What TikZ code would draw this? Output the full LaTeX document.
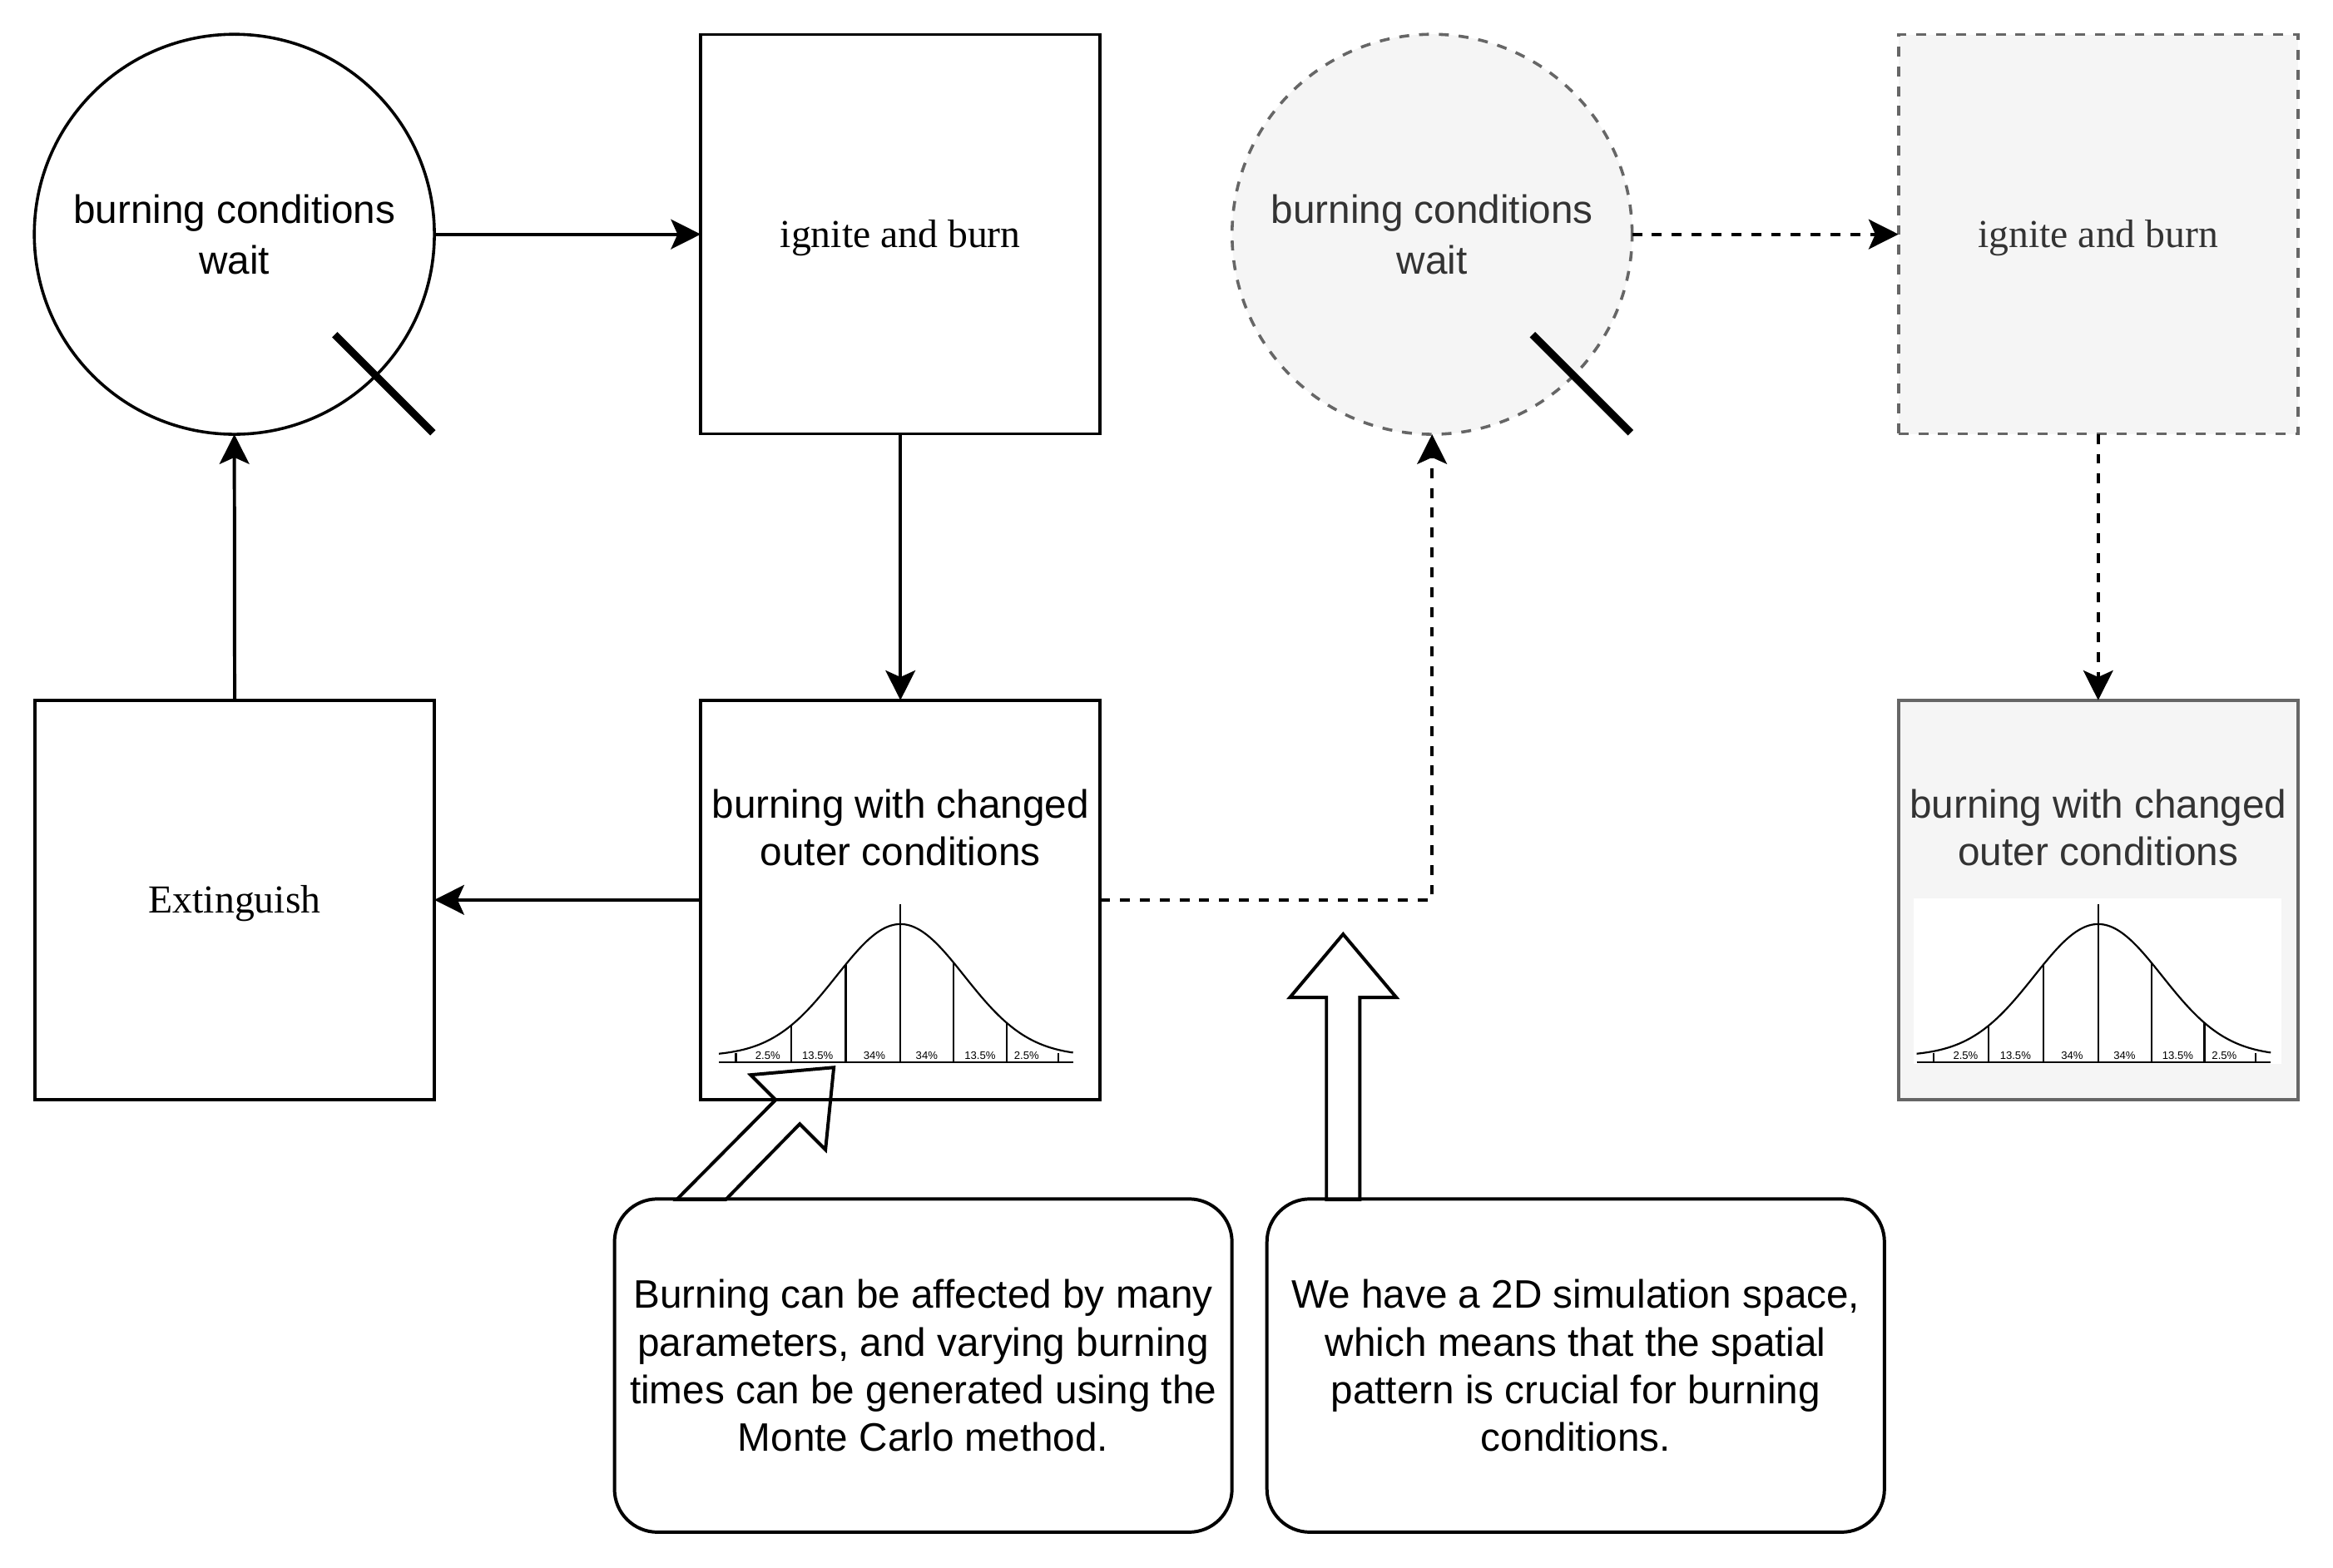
\documentclass[tikz,border=0pt]{standalone}
\usepackage{fontspec}
\setmainfont{Liberation Serif}
\setsansfont{Liberation Sans}
\usetikzlibrary{
  arrows.meta,  % Stealth 箭头
  positioning   % 节点相对定位
}
\definecolor{ghostfill}{HTML}{F5F5F5}
\definecolor{ghostline}{HTML}{666666}
\definecolor{ghosttext}{HTML}{333333}

\begin{document}
\begin{tikzpicture}[x=0.45pt, y=-0.45pt,
  sanstext/.style={font=\sffamily\fontsize{12}{14.4}\selectfont, align=center},
  statebox/.style={draw, line width=0.9pt, minimum width=120.8pt, minimum height=120.8pt,
    inner sep=0pt, outer sep=0pt, font=\fontsize{12}{14.4}\selectfont},
  waitcircle/.style={draw, circle, line width=0.9pt, minimum size=121pt, inner sep=0pt,
    outer sep=0pt, sanstext, font=\sffamily\fontsize{12}{15.3}\selectfont},
  ghost/.style={draw=ghostline, fill=ghostfill, text=ghosttext},
  ghostdash/.style={ghost, dash pattern=on 3pt off 3pt},
  flow/.style={line width=1pt, -{Stealth[length=9pt, width=9pt, inset=2pt]}},
  dashflow/.style={flow, dash pattern=on 3pt off 3pt},
  slash/.style={line width=2.3pt},
  notebox/.style={draw, line width=1pt, rounded corners=13pt, minimum width=186.75pt,
    minimum height=100.8pt, sanstext},
  hollowarrow/.style={draw, line width=1pt, line join=miter},
  bell/.style={line width=0.55pt},
  pct/.style={font=\sffamily\fontsize{3.3}{4}\selectfont, inner sep=0pt}
]
  % 白色背景与画布大小
  \path[fill=white] (0,0) rectangle (1568,1054);

  % 左侧实线循环
  \node[waitcircle] (wait) at (157.5,157.5) {burning conditions\\wait};
  \node[statebox, right=80.55pt of wait] (ignite) {\raisebox{-1pt}[\height][\depth]{ignite and burn}};
  \node[statebox, below=80.55pt of ignite] (burn) {};
  \node[sanstext] (burnlabel) at ([yshift=21.8pt]burn.center) {burning with changed\\outer conditions};
  \node[statebox, left=80.55pt of burn] (ext) {\raisebox{-1pt}[\height][\depth]{Extinguish}};

  % 右侧虚线副本
  \node[waitcircle, ghostdash] (wait2) at (962.5,157.5) {burning conditions\\wait};
  \node[statebox, ghostdash, right=80.55pt of wait2] (ignite2) {\raisebox{-1pt}[\height][\depth]{ignite and burn}};
  \node[statebox, ghost, below=80.55pt of ignite2] (burn2) {};
  \node[sanstext, text=ghosttext] (burnlabel2) at ([yshift=21.8pt]burn2.center) {burning with changed\\outer conditions};

  % 圆上的斜杠
  \draw[slash] ([shift={(-27.6,-27.6)}]wait.-45) -- ([shift={(38.4,38.4)}]wait.-45);
  \draw[slash] ([shift={(-27.6,-27.6)}]wait2.-45) -- ([shift={(38.4,38.4)}]wait2.-45);

  % 正态分布曲线
  \foreach \boxname in {burn, burn2} {
    \begin{scope}[shift={(\boxname.center)}]
      \fill[white] (-124,-1) rectangle (123,110.5);
      \draw[bell, domain=-122:116, samples=90, smooth] plot (\x, {105-88.7*exp(-(\x*\x)/3698)});
      \draw[bell] (-122,109.2) -- (116,109.2);
      \draw[bell] (0,2.8) -- (0,109.2);
      \foreach \t in {-73.5,-36.8,35.8,71.4}
        \draw[bell] (\t,{105-88.7*exp(-(\t*\t)/3698)}) -- (\t,109.2);
      \foreach \t in {-110.6,105.9}
        \draw[bell] (\t,103) -- (\t,109.2);
      \foreach \t/\p in {-89.1/2.5, -55.6/13.5, -17.5/34, 17.7/34, 53.5/13.5, 84.8/2.5}
        \node[pct] at (\t,104.4) {\p\%};
    \end{scope}
  }

  % 连线
  \draw[flow] (wait.east) -- (ignite.west);
  \draw[flow] (ignite.south) -- (burn.north);
  \draw[flow] (burn.west) -- (ext.east);
  \draw[flow] (ext.north) -- (wait.south);
  \draw[dashflow] (burn.east) -| (wait2.south);
  \draw[dashflow] (wait2.east) -- (ignite2.west);
  \draw[dashflow] (ignite2.south) -- (burn2.north);

  % 说明框
  \node[notebox] (note1) at (620.5,918) {Burning can be affected by many\\parameters, and varying burning\\times can be generated using the\\Monte Carlo method.};
  \node[notebox] (note2) at (1059,918) {We have a 2D simulation space,\\which means that the spatial\\pattern is crucial for burning\\conditions.};

  % 空心箭头
  \draw[hollowarrow] (454.7,806.5) -- (521.3,739.4) -- (504.5,722.6) -- (560.4,717.6)
    -- (554.8,772.9) -- (537.5,755.6) -- (487.7,806.5) -- cycle;
  \draw[hollowarrow] (891.5,806.5) -- (891.5,670.6) -- (866.9,670.6) -- (902.7,628)
    -- (938.5,670.6) -- (913.9,670.6) -- (913.9,806.5) -- cycle;
\end{tikzpicture}
\end{document}
